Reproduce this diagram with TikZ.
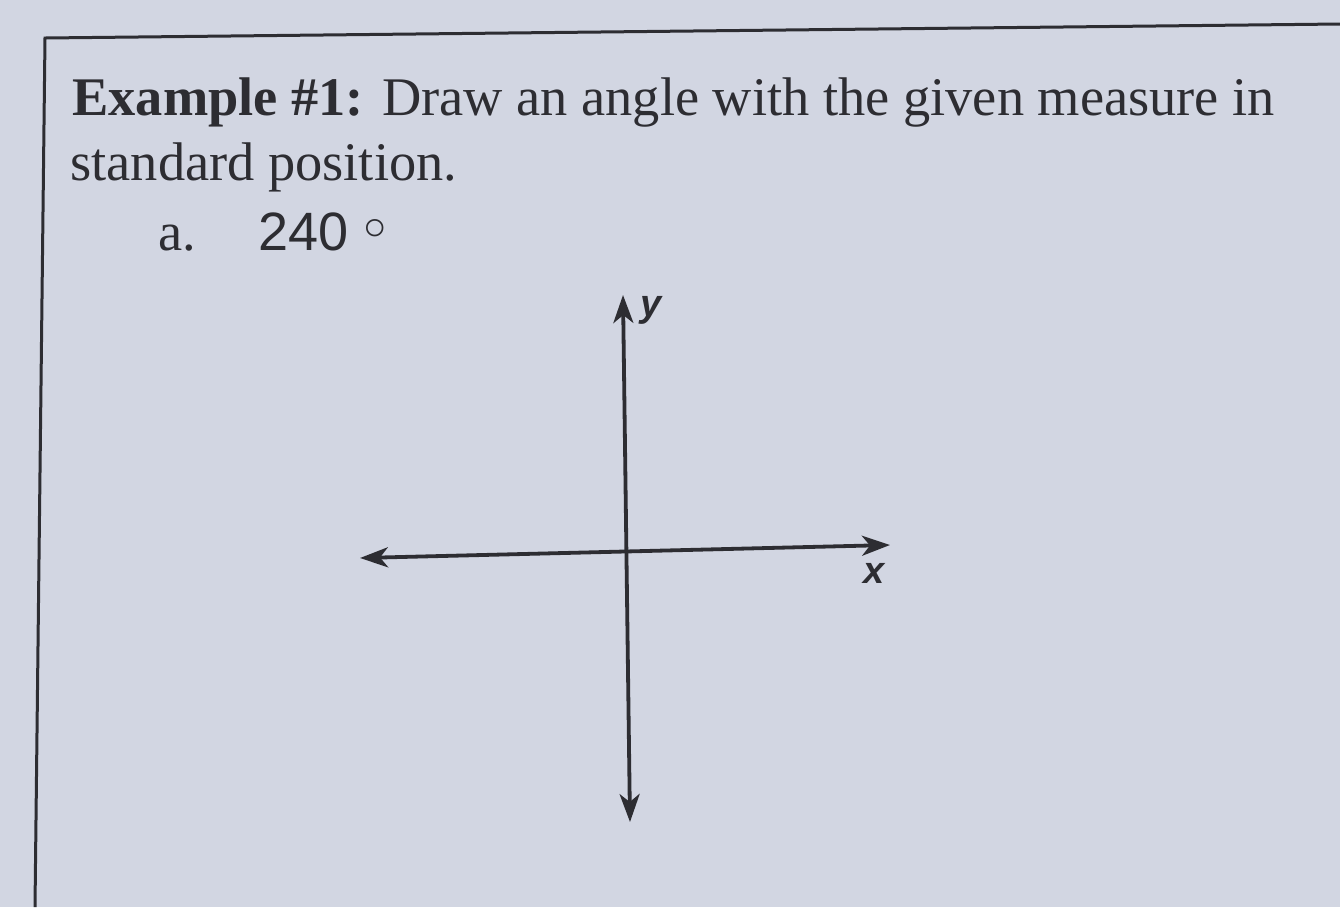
\documentclass[tikz,border=0pt]{standalone}
\usepackage{fontspec}
\setmainfont{Liberation Serif}
\newfontfamily\arialfont{Liberation Sans}
\newfontfamily\symfont{DejaVu Sans}
\usetikzlibrary{arrows.meta,positioning}
\definecolor{paperbg}{RGB}{210,214,226}
\definecolor{inkgray}{RGB}{45,45,50}

\begin{document}
\begin{tikzpicture}[
    x=0.5pt, y=-0.5pt,
    heading/.style={anchor=base west, inner sep=0pt, font=\fontsize{27.2}{33}\selectfont, text=inkgray},
    axis/.style={line width=1.9pt, draw=inkgray, {Stealth[length=14pt,width=10pt,inset=4pt]}-{Stealth[length=14pt,width=10pt,inset=4pt]}},
    axislabel/.style={inner sep=0pt, font=\arialfont\itshape\bfseries\fontsize{19}{22}\selectfont, text=inkgray}
]
\fill[paperbg] (0,0) rectangle (1340,907);
\useasboundingbox (0,0) rectangle (1340,907);

% frame of the worksheet
\draw[line width=1.5pt, inkgray] (1340,24) -- (45,38) -- (35,907);

% problem text
\node[heading] (title) at (72,115) {\textbf{Example \#1:} Draw an angle with the given measure in};
\node[heading] (title2) at (70,180) {standard position.};
\node[heading] (part) at (158,250) {a.};
\node[heading, font=\arialfont\fontsize{27}{32}\selectfont] (angle) at (258,250) {240\,{\symfont\fontsize{30}{34}\selectfont ◦}};

% axes
\coordinate (xleft) at (360,558);
\coordinate (xright) at (890,545);
\coordinate (ytop) at (623,295);
\coordinate (ybot) at (630,822);
\draw[axis] (xleft) -- (xright);
\draw[axis] (ybot) -- (ytop);
\node[axislabel] (ylab) at (651,310) {y};
\node[axislabel] (xlab) at (874,573) {x};

\end{tikzpicture}
\end{document}
